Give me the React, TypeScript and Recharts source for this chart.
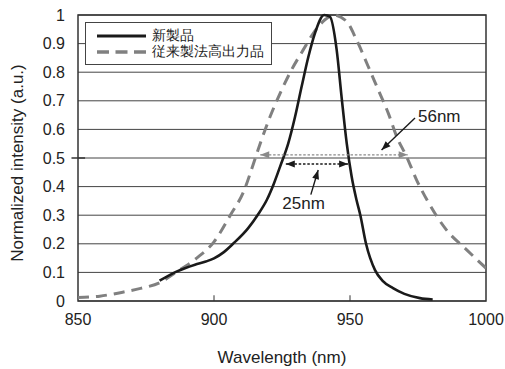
import React from 'react';
import {
  LineChart,
  Line,
  XAxis,
  YAxis,
  CartesianGrid,
  Legend,
  ReferenceLine,
  ReferenceArea,
  ReferenceDot,
} from 'recharts';

// 新製品 (solid)
const newWavelength = [
  880, 886, 893, 897, 900, 903.5, 907, 912.5, 916, 919.4, 922, 924.3, 927.3, 929.8, 932.2, 934.7,
  937.1, 940.5, 942.6, 945.1, 946.9, 948.8, 950.6, 952.4, 953.8, 955.9, 959.2, 962, 965.8, 970,
  975.7, 980.4,
];
const newIntensity = [
  0.071, 0.102, 0.127, 0.138, 0.149, 0.17, 0.2, 0.254, 0.3, 0.353, 0.41, 0.47, 0.551, 0.644, 0.749,
  0.854, 0.936, 1.0, 0.994, 0.878, 0.714, 0.551, 0.435, 0.353, 0.3, 0.2, 0.108, 0.07, 0.045, 0.025,
  0.01, 0.005,
];

// 従来製法高出力品 (dashed)
const oldWavelength = [
  850, 858, 866, 873, 880, 886, 893.5, 900, 906, 911, 914.5, 917, 920.6, 924.3, 928.5, 932.8,
  936.5, 941, 944, 948.8, 952.4, 956.7, 960.4, 964.1, 967.2, 970.8, 974.5, 978.5, 985.5, 993,
  1000,
];
const oldIntensity = [
  0.012, 0.017, 0.03, 0.044, 0.064, 0.1, 0.149, 0.207, 0.3, 0.385, 0.48, 0.551, 0.644, 0.726,
  0.808, 0.878, 0.936, 0.985, 1.0, 0.977, 0.913, 0.82, 0.738, 0.656, 0.574, 0.505, 0.423, 0.35,
  0.248, 0.178, 0.115,
];

const xTicks = [850, 900, 950, 1000];
const yTicks = [0, 0.1, 0.2, 0.3, 0.4, 0.5, 0.6, 0.7, 0.8, 0.9, 1];

const seriesNames = ['新製品', '従来製法高出力品'];
const seriesColors = ['#1a1a1a', '#808080'];
const seriesDash = ['', '11 7'];

// FWHM annotations: [left, right, level]
const fwhmOld = [917, 971.2, 0.511];
const fwhmNew = [926.4, 949.3, 0.479];
// pointer arrows: [tailX, tailY, tipX, tipY]
const pointerOld = [973.9, 0.64, 961.6, 0.528];
const pointerNew = [935.6, 0.372, 938.3, 0.458];
const annotationText = ['56nm', '25nm'];
const annotationPos = [
  [975, 0.627],
  [925.1, 0.321],
];

const newData = newWavelength.map((wl, i) => ({ wl, v: newIntensity[i] }));
const oldData = oldWavelength.map((wl, i) => ({ wl, v: oldIntensity[i] }));

const font = '"Liberation Sans", Arial, Helvetica, sans-serif';

const head = (x: number, y: number, fromX: number, fromY: number, len: number, w: number, color: string) => {
  const dx = x - fromX;
  const dy = y - fromY;
  const d = Math.sqrt(dx * dx + dy * dy) || 1;
  const ux = dx / d;
  const uy = dy / d;
  const bx = x - ux * len;
  const by = y - uy * len;
  const pts = `${x},${y} ${bx - uy * w},${by + ux * w} ${bx + uy * w},${by - ux * w}`;
  return <polygon points={pts} fill={color} stroke="none" />;
};

const arrowShape = (color: string, both: boolean, dash: string, len: number) => (p: any) => {
  const { x1, y1, x2, y2 } = p;
  return (
    <g>
      <line x1={x1} y1={y1} x2={x2} y2={y2} stroke={color} strokeWidth={1.4} strokeDasharray={dash} />
      {head(x2, y2, x1, y1, len, 3.5, color)}
      {both ? head(x1, y1, x2, y2, len, 3.5, color) : null}
    </g>
  );
};

const textShape = (label: string) => (p: any) => (
  <text x={p.cx} y={p.cy} fontSize={17} fontFamily={font} fill="#222">
    {label}
  </text>
);

const LegendBox = () => (
  <div
    style={{
      width: 187,
      height: 43,
      border: '1px solid #444',
      background: '#fff',
      fontFamily: font,
      fontSize: 13.5,
      color: '#222',
      boxSizing: 'border-box',
      paddingTop: 5,
    }}
  >
    {seriesNames.map((name, i) => (
      <div key={name} style={{ display: 'flex', alignItems: 'center', height: 16 }}>
        <svg width={66} height={10}>
          <line
            x1={11}
            x2={60}
            y1={5}
            y2={5}
            stroke={seriesColors[i]}
            strokeWidth={i === 0 ? 3 : 3.5}
            strokeDasharray={i === 0 ? undefined : '12 6.5'}
          />
        </svg>
        <span style={{ lineHeight: '16px' }}>{name}</span>
      </div>
    ))}
  </div>
);

const App: React.FC = () => (
  <div style={{ position: 'absolute', left: 0, top: 0 }}>
    <LineChart width={505} height={369} margin={{ top: 15, right: 19, left: 0, bottom: 0 }}>
      <CartesianGrid vertical={false} stroke="#444" horizontalValues={yTicks} />
      <XAxis
        type="number"
        dataKey="wl"
        domain={[850, 1000]}
        ticks={xTicks}
        allowDataOverflow
        height={68}
        axisLine={false}
        tickLine={false}
        tickSize={6}
        tickMargin={7}
        tick={{ fontSize: 16, fill: '#222', fontFamily: font }}
        label={{
          value: 'Wavelength (nm)',
          position: 'insideBottom',
          offset: 6,
          style: { fontSize: 17, fill: '#222', fontFamily: font },
        }}
      />
      <YAxis
        type="number"
        domain={[0, 1]}
        ticks={yTicks}
        width={78}
        axisLine={false}
        tickLine={false}
        tickSize={6}
        tickMargin={7}
        tick={{ fontSize: 16, fill: '#222', fontFamily: font }}
        label={{
          value: 'Normalized intensity (a.u.)',
          angle: -90,
          position: 'center',
          dx: -22,
          dy: 5,
          style: { fontSize: 17, fill: '#222', fontFamily: font, textAnchor: 'middle' },
        }}
      />
      <ReferenceArea x1={850} x2={1000} y1={0} y2={1} fill="none" stroke="#333" strokeWidth={1.5} />
      <ReferenceLine segment={[{ x: 900, y: 0 }, { x: 900, y: 0.02 }]} stroke="#333" />
      <ReferenceLine segment={[{ x: 950, y: 0 }, { x: 950, y: 0.02 }]} stroke="#333" />
      <ReferenceLine
        segment={[{ x: 847.6, y: 0.5 }, { x: 852.6, y: 0.5 }]}
        stroke="#333"
        strokeWidth={1.5}
        ifOverflow="visible"
      />
      <Line
        data={oldData}
        dataKey="v"
        name={seriesNames[1]}
        type="monotone"
        stroke={seriesColors[1]}
        strokeWidth={3}
        strokeDasharray={seriesDash[1]}
        dot={false}
        isAnimationActive={false}
      />
      <Line
        data={newData}
        dataKey="v"
        name={seriesNames[0]}
        type="monotone"
        stroke={seriesColors[0]}
        strokeWidth={2.6}
        dot={false}
        isAnimationActive={false}
      />
      <ReferenceLine
        segment={[{ x: fwhmOld[0], y: fwhmOld[2] }, { x: fwhmOld[1], y: fwhmOld[2] }]}
        shape={arrowShape('#8a8a8a', true, '2.5 1.8', 9)}
      />
      <ReferenceLine
        segment={[{ x: fwhmNew[0], y: fwhmNew[2] }, { x: fwhmNew[1], y: fwhmNew[2] }]}
        shape={arrowShape('#1a1a1a', true, '2.5 1.8', 9)}
      />
      <ReferenceLine
        segment={[{ x: pointerOld[0], y: pointerOld[1] }, { x: pointerOld[2], y: pointerOld[3] }]}
        shape={arrowShape('#1a1a1a', false, '', 9)}
      />
      <ReferenceLine
        segment={[{ x: pointerNew[0], y: pointerNew[1] }, { x: pointerNew[2], y: pointerNew[3] }]}
        shape={arrowShape('#1a1a1a', false, '', 9)}
      />
      {annotationText.map((t, i) => (
        <ReferenceDot
          key={t}
          x={annotationPos[i][0]}
          y={annotationPos[i][1]}
          r={0}
          shape={textShape(t)}
        />
      ))}
      <Legend
        layout="vertical"
        verticalAlign="middle"
        align="center"
        content={LegendBox}
        wrapperStyle={{ left: 85, top: 22, width: 'auto', height: 'auto' }}
      />
    </LineChart>
  </div>
);

export default App;
